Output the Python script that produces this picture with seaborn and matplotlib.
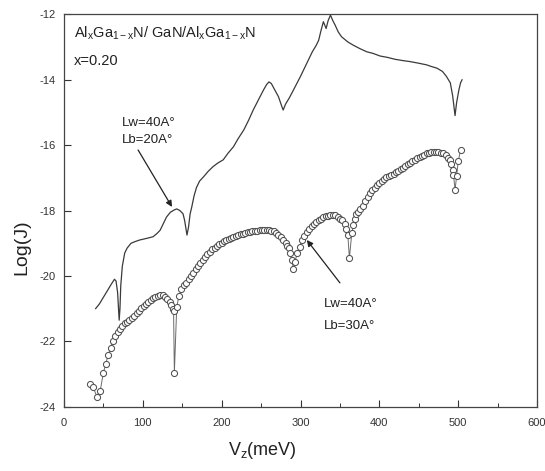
import matplotlib
matplotlib.use("Agg")
import matplotlib.pyplot as plt
import seaborn as sns
import pandas as pd
from matplotlib.ticker import MultipleLocator

# ---- data ----
# Lw=40A, Lb=20A (solid line)
v_line = [40, 45, 50, 55, 60, 64, 66, 68, 70, 71, 72, 74, 77, 80, 85, 90, 96, 105, 113, 118,
          122, 126, 130, 135, 140, 143, 147, 151, 153, 155, 156, 158, 160, 162, 165, 168, 172,
          177, 183, 189, 195, 202, 208, 215, 221, 228, 234, 240, 247, 253, 257, 260, 263, 267,
          272, 276, 278, 281, 286, 291, 300, 308, 315, 320, 323, 326, 329, 331, 332.5, 335, 338,
          341, 344, 348, 352, 360, 367, 375, 384, 392, 401, 410, 420, 430, 439, 450, 460, 466,
          473, 480, 485, 490, 493, 495, 496, 498, 501, 503, 505]
j_line = [-21.0, -20.85, -20.65, -20.45, -20.25, -20.1, -20.15, -20.5, -21.35, -21.0, -20.3,
          -19.7, -19.3, -19.15, -19.0, -18.95, -18.9, -18.85, -18.8, -18.7, -18.6, -18.4, -18.2,
          -18.05, -17.98, -17.95, -18.0, -18.1, -18.3, -18.6, -18.75, -18.5, -18.1, -17.9,
          -17.55, -17.3, -17.1, -16.97, -16.8, -16.66, -16.55, -16.45, -16.25, -16.05, -15.8,
          -15.54, -15.25, -14.93, -14.6, -14.32, -14.15, -14.07, -14.12, -14.3, -14.52, -14.8,
          -14.93, -14.75, -14.55, -14.32, -13.9, -13.5, -13.15, -12.95, -12.8, -12.5, -12.23,
          -12.35, -12.44, -12.2, -12.03, -12.2, -12.34, -12.55, -12.69, -12.85, -12.95, -13.05,
          -13.15, -13.2, -13.28, -13.32, -13.38, -13.42, -13.45, -13.5, -13.55, -13.6, -13.65,
          -13.75, -13.9, -14.1, -14.5, -14.9, -15.1, -14.7, -14.3, -14.1, -14.0]

# Lw=40A, Lb=30A (open circles)
v_circ = [33, 37, 42, 46, 50, 53, 56, 59, 62, 65, 68, 71, 74, 77, 80, 83, 86, 89, 92, 95, 98,
          101, 104, 107, 110, 113, 116, 119, 122, 125, 128, 131, 134, 136, 138, 139, 140, 143,
          146, 149, 152, 155, 158, 161, 164, 167, 170, 173, 176, 179, 182, 185, 188, 191, 194,
          197, 200, 203, 206, 209, 212, 215, 218, 221, 224, 227, 230, 233, 236, 239, 242, 245,
          248, 251, 254, 257, 260, 263, 266, 269, 272, 275, 278, 281, 283, 285, 287, 289, 291,
          293, 296, 299, 302, 305, 308, 311, 314, 317, 320, 323, 326, 329, 332, 335, 338, 341,
          344, 347, 350, 353, 356, 358, 360, 362, 365, 367, 369, 371, 373, 376, 379, 382, 385,
          388, 391, 394, 397, 400, 403, 406, 409, 412, 415, 418, 421, 424, 427, 430, 433, 436,
          439, 442, 445, 448, 451, 454, 457, 460, 463, 466, 469, 472, 475, 478, 481, 484, 487,
          489, 491, 493, 494, 496, 498, 500, 503]
j_circ = [-23.3, -23.4, -23.7, -23.5, -22.95, -22.68, -22.42, -22.2, -21.98, -21.84, -21.72,
          -21.62, -21.53, -21.45, -21.39, -21.33, -21.28, -21.22, -21.14, -21.07, -20.99, -20.92,
          -20.85, -20.79, -20.73, -20.68, -20.63, -20.6, -20.58, -20.59, -20.63, -20.7, -20.8,
          -20.9, -21.0, -21.08, -22.96, -20.94, -20.6, -20.4, -20.28, -20.2, -20.1, -20.0,
          -19.92, -19.8, -19.7, -19.6, -19.5, -19.41, -19.33, -19.26, -19.19, -19.13, -19.08,
          -19.03, -18.98, -18.94, -18.9, -18.86, -18.83, -18.8, -18.78, -18.75, -18.73, -18.71,
          -18.69, -18.67, -18.65, -18.63, -18.62, -18.61, -18.6, -18.59, -18.59, -18.59, -18.6,
          -18.61, -18.64, -18.68, -18.74, -18.8, -18.9, -19.0, -19.08, -19.15, -19.3, -19.5,
          -19.8, -19.56, -19.3, -19.1, -18.9, -18.78, -18.67, -18.57, -18.48, -18.4, -18.34,
          -18.29, -18.25, -18.21, -18.18, -18.16, -18.14, -18.13, -18.15, -18.2, -18.25, -18.3,
          -18.42, -18.55, -18.75, -19.45, -18.7, -18.45, -18.25, -18.12, -18.05, -17.95, -17.85,
          -17.72, -17.58, -17.47, -17.38, -17.3, -17.22, -17.15, -17.09, -17.04, -16.99, -16.95,
          -16.91, -16.87, -16.83, -16.78, -16.74, -16.69, -16.64, -16.59, -16.55, -16.5, -16.45,
          -16.4, -16.35, -16.32, -16.29, -16.25, -16.23, -16.21, -16.2, -16.2, -16.21, -16.23,
          -16.25, -16.3, -16.38, -16.46, -16.58, -16.75, -16.9, -17.37, -16.95, -16.5, -16.15]

x_ticks = [0, 100, 200, 300, 400, 500, 600]
y_ticks = [-12, -14, -16, -18, -20, -22, -24]

# ---- style ----
sns.set_style("ticks")
plt.rcParams['font.family'] = ['Liberation Sans', 'DejaVu Sans']
plt.rcParams['axes.unicode_minus'] = False
plt.rcParams['mathtext.fontset'] = 'custom'
plt.rcParams['mathtext.rm'] = 'Liberation Sans'
plt.rcParams['mathtext.it'] = 'Liberation Sans'

fig = plt.figure(figsize=(5.45, 4.71), dpi=100)
ax = fig.add_axes([0.1174, 0.136, 0.868, 0.834])

df_line = pd.DataFrame({"V": v_line, "J": j_line})
df_circ = pd.DataFrame({"V": v_circ, "J": j_circ})

sns.lineplot(data=df_line, x="V", y="J", sort=False, estimator=None, ax=ax,
             color="#3a3a3a", linewidth=0.9)
sns.lineplot(data=df_circ, x="V", y="J", sort=False, estimator=None, ax=ax,
             color="#6a6a6a", linewidth=0.7, marker="o", markersize=4.4,
             markerfacecolor="white", markeredgecolor="#505050", markeredgewidth=0.75)

ax.set_xlim(0, 600)
ax.set_ylim(-24, -12)
ax.set_xticks(x_ticks)
ax.set_yticks(y_ticks)
ax.set_xticklabels([str(t) for t in x_ticks])
ax.set_yticklabels([str(t) for t in y_ticks])
ax.xaxis.set_minor_locator(MultipleLocator(50))
ax.tick_params(axis="both", which="major", direction="in", length=5, width=0.8,
               labelsize=8, colors="#333333", top=False, right=False)
ax.tick_params(axis="x", which="major", pad=8)
ax.tick_params(axis="y", which="major", pad=6)
ax.tick_params(axis="x", which="minor", direction="in", length=3, width=0.7,
               colors="#333333", top=False)
for s in ax.spines.values():
    s.set_visible(True)
    s.set_linewidth(0.9)
    s.set_color("#444444")

ax.set_xlabel(r"V$_z$(meV)", fontsize=13, color="#222222")
ax.set_ylabel("Log(J)", fontsize=14, color="#222222")
ax.xaxis.set_label_coords(0.42, -0.084)
ax.yaxis.set_label_coords(-0.072, 0.407)

# ---- annotations ----
ax.text(12.7, -12.58, r"Al$_x$Ga$_{1-x}$N/ GaN/Al$_x$Ga$_{1-x}$N", fontsize=10.5,
        ha="left", va="center", color="#222222")
ax.text(12.7, -13.44, "x=0.20", fontsize=10.5, ha="left", va="center", color="#222222")

ax.text(73.6, -15.33, "Lw=40A°", fontsize=9.5, ha="left", va="center", color="#222222")
ax.text(73.6, -15.85, "Lb=20A°", fontsize=9.5, ha="left", va="center", color="#222222")
ax.annotate("", xy=(137, -17.89), xytext=(94, -16.15),
            arrowprops=dict(arrowstyle="-|>", color="#222222", lw=0.9,
                            mutation_scale=9, shrinkA=0, shrinkB=0))

ax.text(329, -20.86, "Lw=40A°", fontsize=9.5, ha="left", va="center", color="#222222")
ax.text(329, -21.52, "Lb=30A°", fontsize=9.5, ha="left", va="center", color="#222222")
ax.annotate("", xy=(308, -18.9), xytext=(350, -20.21),
            arrowprops=dict(arrowstyle="-|>", color="#222222", lw=0.9,
                            mutation_scale=9, shrinkA=0, shrinkB=0))

fig.savefig("out.png", dpi=100)
